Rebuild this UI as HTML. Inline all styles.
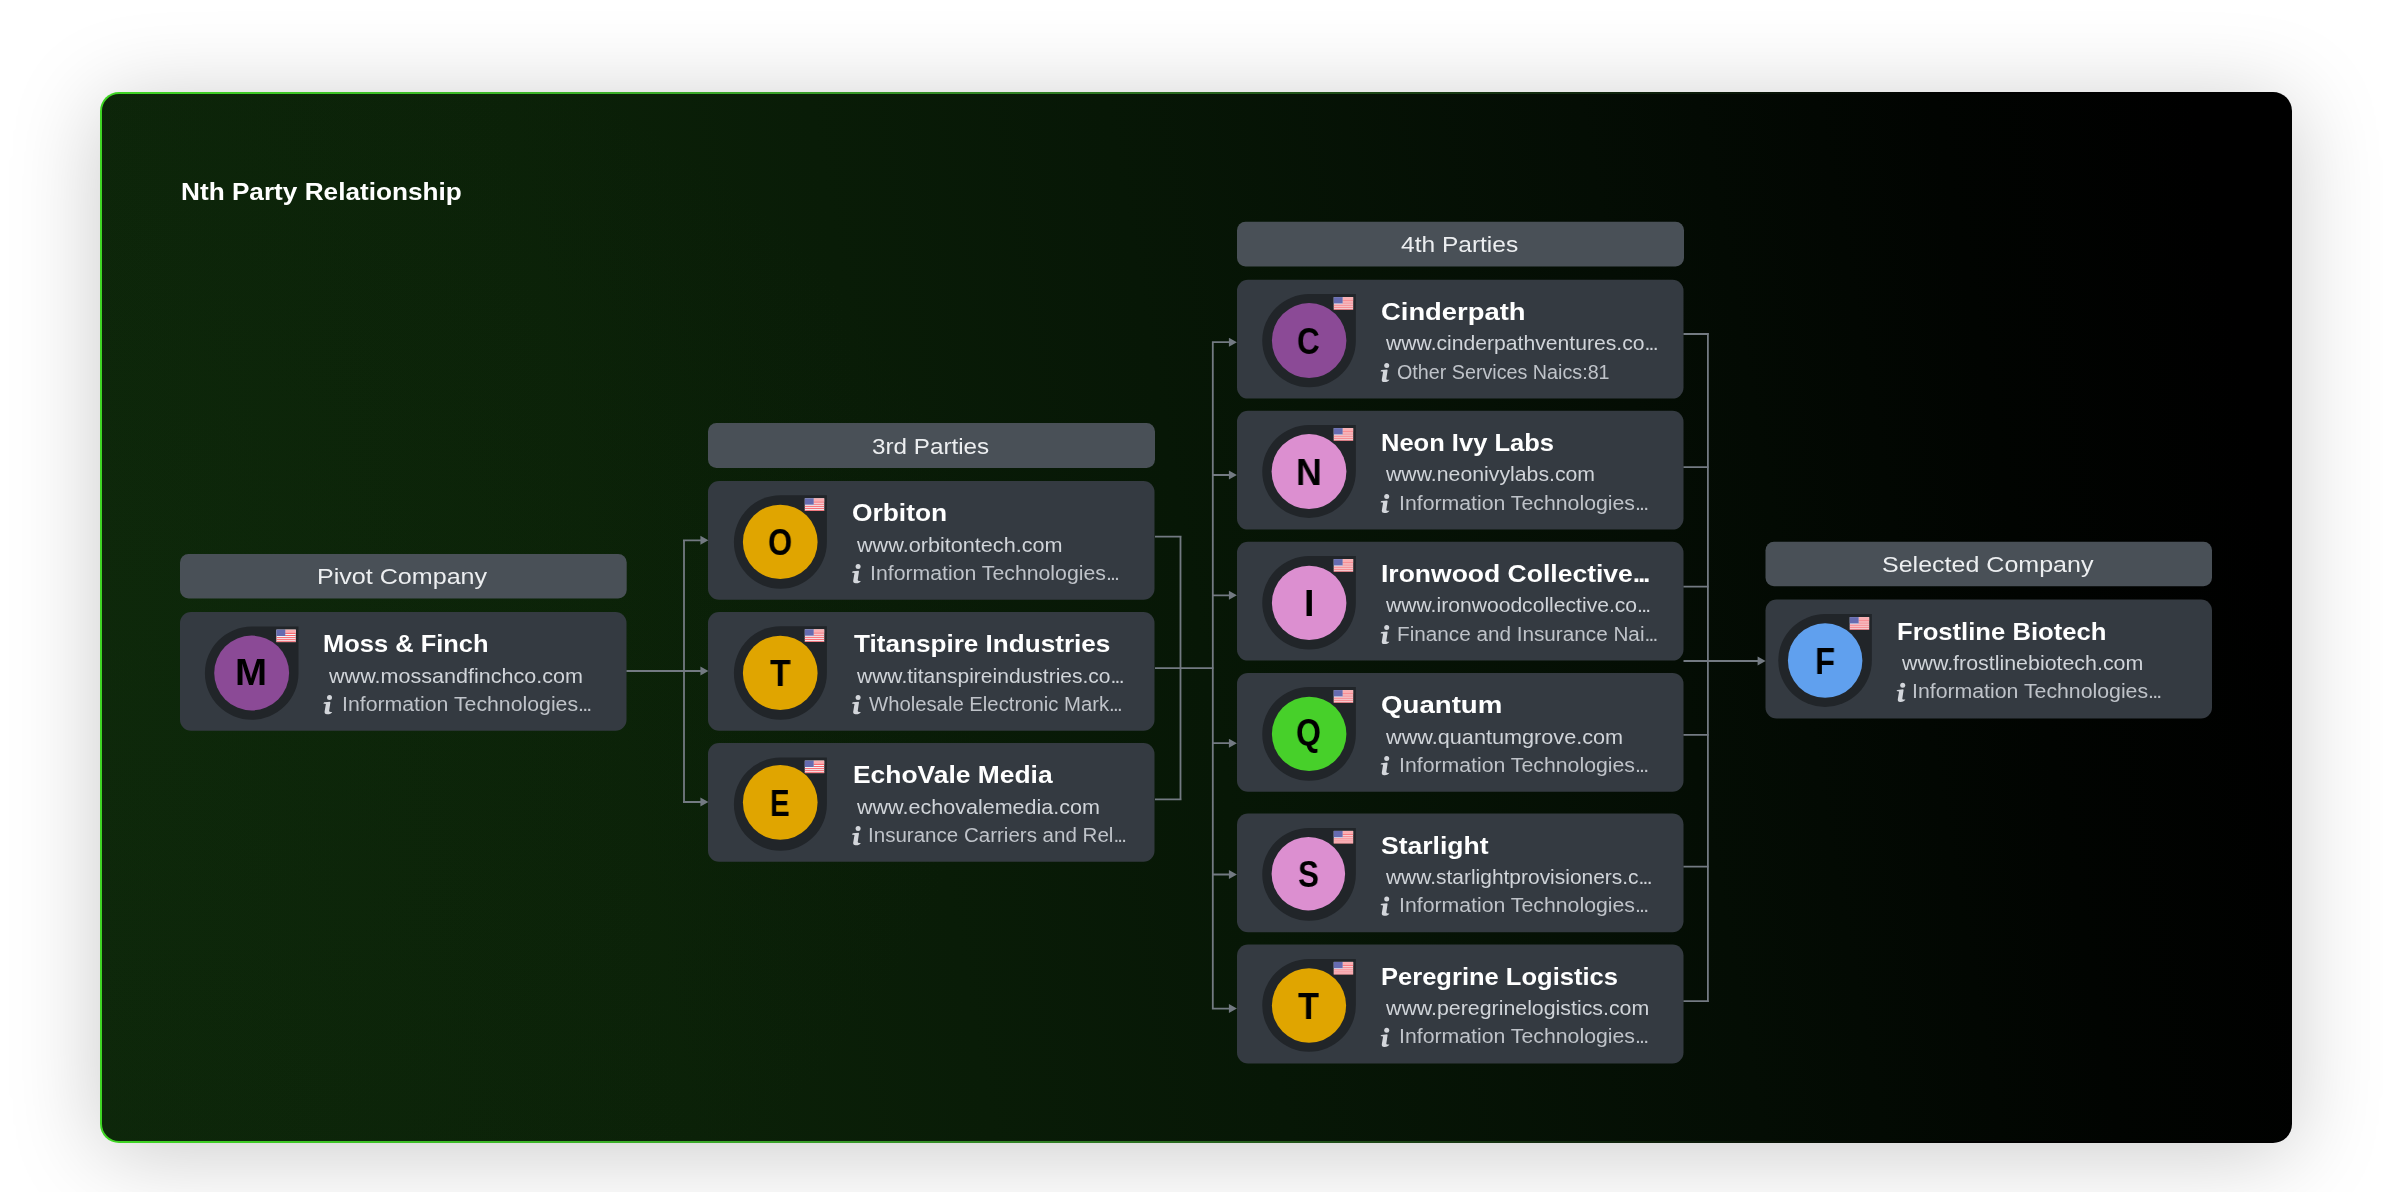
<!DOCTYPE html>
<html><head><meta charset="utf-8"><title>Nth Party Relationship</title>
<style>
html,body{margin:0;padding:0}
body{width:2392px;height:1192px;background:#fff;position:relative;overflow:hidden;font-family:"Liberation Sans",sans-serif}
.panel{position:absolute;left:100px;top:92px;width:2192px;height:1051px;box-sizing:border-box;border-radius:19px;border:2px solid transparent;
 background:radial-gradient(ellipse 900px 700px at 0% 55%,rgba(22,64,16,0.12),rgba(22,64,16,0) 100%) padding-box,linear-gradient(80deg,#0d260a 0%,#0b2108 25%,#071706 50%,#040d04 70%,#010401 85%,#000 96%) padding-box,linear-gradient(90deg,#3fd524 0%,#3aa42a 30%,#2f7a24 45%,#142e10 65%,#000 85%) border-box;
 box-shadow:0 10px 90px rgba(0,0,0,0.21)}
svg.g{position:absolute;left:0;top:0}
.t{position:absolute;white-space:pre;line-height:1;transform-origin:0 0;will-change:transform;font-family:"Liberation Sans",sans-serif}
.title{color:#fff;font-weight:700}
.ht{color:#eceef0}
.nm{color:#fff;font-weight:700}
.e{letter-spacing:-0.085em}
.url{color:#d0d4d9}
.ind{color:#bfc3c9}
.lt{will-change:transform;position:absolute;white-space:pre;font-weight:700;font-size:37.5px;line-height:1;color:#000;transform-origin:0 0}
</style></head><body>
<div class="panel"></div>
<svg class="g" width="2392" height="1192" viewBox="0 0 2392 1192"><rect x="180" y="554" width="446.7" height="44.5" rx="8.5" fill="#495057"/>
<rect x="708" y="423" width="447" height="45" rx="8.5" fill="#495057"/>
<rect x="1237" y="221.8" width="447" height="44.7" rx="8.5" fill="#495057"/>
<rect x="1765.5" y="541.8" width="446.5" height="44.5" rx="8.5" fill="#495057"/>
<defs><g id="fl"><rect x="0.3" y="0.3" width="19.4" height="12.5" fill="#f4f4f8"/><rect x="9" y="0.3" width="10.7" height="3.4" fill="#fbaeb2"/><rect x="9" y="3.6" width="10.7" height="1.05" fill="#f8646c"/><rect x="9" y="5.7" width="10.7" height="1.05" fill="#f8646c"/><rect x="0.3" y="7.8" width="19.4" height="1.05" fill="#f8646c"/><rect x="0.3" y="9.85" width="19.4" height="1.05" fill="#f8646c"/><rect x="0.3" y="11.9" width="19.4" height="0.9" fill="#f8646c"/><rect x="0.3" y="0.3" width="8.9" height="6.4" fill="#666bb0"/></g>
<g id="ii" fill="#d3d6db"><circle cx="6.5" cy="2.5" r="2.5"/><path d="M0.2,8.3 L1.2,7.2 L7.0,6.6 L7.4,7.4 L6.1,16.0 Q6.3,17.2 9.2,16.8 Q8.0,19.3 4.0,19.2 Q1.2,19.0 1.6,16.5 L2.9,8.8 Z"/></g></defs>
<rect x="180" y="612" width="446.5" height="118.8" rx="11" fill="#343a41"/>
<path d="M251.70,626.60 L298.50,626.60 L298.50,673.15 A46.80,46.55 0 0 1 251.70,719.70 A46.80,46.55 0 0 1 204.90,673.15 A46.80,46.55 0 0 1 251.70,626.60 Z" fill="#212529"/>
<ellipse cx="251.65" cy="673.00" rx="37.45" ry="37.40" fill="#8b4a96"/>
<use href="#fl" x="276.10" y="629.30"/>
<use href="#ii" x="323.0" y="695.1"/>
<rect x="708" y="481" width="446.5" height="118.8" rx="11" fill="#343a41"/>
<path d="M780.40,495.30 L826.90,495.30 L826.90,542.00 A46.50,46.70 0 0 1 780.40,588.70 A46.50,46.70 0 0 1 733.90,542.00 A46.50,46.70 0 0 1 780.40,495.30 Z" fill="#212529"/>
<ellipse cx="780.25" cy="541.88" rx="37.35" ry="37.23" fill="#e0a500"/>
<use href="#fl" x="804.50" y="498.00"/>
<use href="#ii" x="851.6" y="564.1"/>
<rect x="708" y="612" width="446.5" height="118.8" rx="11" fill="#343a41"/>
<path d="M780.40,626.30 L826.90,626.30 L826.90,673.00 A46.50,46.70 0 0 1 780.40,719.70 A46.50,46.70 0 0 1 733.90,673.00 A46.50,46.70 0 0 1 780.40,626.30 Z" fill="#212529"/>
<ellipse cx="780.25" cy="672.88" rx="37.35" ry="37.23" fill="#e0a500"/>
<use href="#fl" x="804.50" y="629.00"/>
<use href="#ii" x="851.6" y="695.1"/>
<rect x="708" y="743" width="446.5" height="118.8" rx="11" fill="#343a41"/>
<path d="M780.40,757.60 L826.90,757.60 L826.90,804.15 A46.50,46.55 0 0 1 780.40,850.70 A46.50,46.55 0 0 1 733.90,804.15 A46.50,46.55 0 0 1 780.40,757.60 Z" fill="#212529"/>
<ellipse cx="780.25" cy="802.35" rx="37.35" ry="37.45" fill="#e0a500"/>
<use href="#fl" x="804.50" y="760.30"/>
<use href="#ii" x="851.6" y="826.1"/>
<rect x="1237" y="279.8" width="446.5" height="118.8" rx="11" fill="#343a41"/>
<path d="M1309.05,294.10 L1355.85,294.10 L1355.85,340.65 A46.80,46.55 0 0 1 1309.05,387.20 A46.80,46.55 0 0 1 1262.25,340.65 A46.80,46.55 0 0 1 1309.05,294.10 Z" fill="#212529"/>
<ellipse cx="1309.15" cy="340.60" rx="37.25" ry="37.50" fill="#8b4a96"/>
<use href="#fl" x="1333.45" y="296.80"/>
<use href="#ii" x="1380.2" y="362.9"/>
<rect x="1237" y="410.8" width="446.5" height="118.8" rx="11" fill="#343a41"/>
<path d="M1309.05,425.10 L1355.85,425.10 L1355.85,471.50 A46.80,46.40 0 0 1 1309.05,517.90 A46.80,46.40 0 0 1 1262.25,471.50 A46.80,46.40 0 0 1 1309.05,425.10 Z" fill="#212529"/>
<ellipse cx="1309.00" cy="471.60" rx="37.40" ry="37.50" fill="#dc8fd0"/>
<use href="#fl" x="1333.45" y="427.80"/>
<use href="#ii" x="1380.2" y="493.9"/>
<rect x="1237" y="541.8" width="446.5" height="118.8" rx="11" fill="#343a41"/>
<path d="M1309.05,556.10 L1355.85,556.10 L1355.85,602.80 A46.80,46.70 0 0 1 1309.05,649.50 A46.80,46.70 0 0 1 1262.25,602.80 A46.80,46.70 0 0 1 1309.05,556.10 Z" fill="#212529"/>
<ellipse cx="1309.15" cy="602.88" rx="37.25" ry="37.23" fill="#dc8fd0"/>
<use href="#fl" x="1333.45" y="558.80"/>
<use href="#ii" x="1380.2" y="624.9"/>
<rect x="1237" y="672.9" width="446.5" height="118.8" rx="11" fill="#343a41"/>
<path d="M1309.05,687.10 L1355.85,687.10 L1355.85,733.90 A46.80,46.80 0 0 1 1309.05,780.70 A46.80,46.80 0 0 1 1262.25,733.90 A46.80,46.80 0 0 1 1309.05,687.10 Z" fill="#212529"/>
<ellipse cx="1309.15" cy="733.88" rx="37.25" ry="37.23" fill="#47d02a"/>
<use href="#fl" x="1333.45" y="689.80"/>
<use href="#ii" x="1380.2" y="756.0"/>
<rect x="1237" y="813.5" width="446.5" height="118.8" rx="11" fill="#343a41"/>
<path d="M1309.05,827.90 L1355.85,827.90 L1355.85,874.30 A46.80,46.40 0 0 1 1309.05,920.70 A46.80,46.40 0 0 1 1262.25,874.30 A46.80,46.40 0 0 1 1309.05,827.90 Z" fill="#212529"/>
<ellipse cx="1308.35" cy="873.67" rx="36.75" ry="36.72" fill="#dc8fd0"/>
<use href="#fl" x="1333.45" y="830.60"/>
<use href="#ii" x="1380.2" y="896.6"/>
<rect x="1237" y="944.6" width="446.5" height="118.8" rx="11" fill="#343a41"/>
<path d="M1309.05,958.90 L1355.85,958.90 L1355.85,1005.30 A46.80,46.40 0 0 1 1309.05,1051.70 A46.80,46.40 0 0 1 1262.25,1005.30 A46.80,46.40 0 0 1 1309.05,958.90 Z" fill="#212529"/>
<ellipse cx="1309.00" cy="1005.47" rx="37.10" ry="37.32" fill="#e0a500"/>
<use href="#fl" x="1333.45" y="961.60"/>
<use href="#ii" x="1380.2" y="1027.7"/>
<rect x="1765.5" y="599.6" width="446.5" height="118.8" rx="11" fill="#343a41"/>
<path d="M1825.05,614.10 L1871.85,614.10 L1871.85,660.50 A46.80,46.40 0 0 1 1825.05,706.90 A46.80,46.40 0 0 1 1778.25,660.50 A46.80,46.40 0 0 1 1825.05,614.10 Z" fill="#212529"/>
<ellipse cx="1825.15" cy="660.58" rx="37.25" ry="37.22" fill="#60a0ee"/>
<use href="#fl" x="1849.45" y="616.80"/>
<use href="#ii" x="1896.2" y="682.7"/>
<path d="M626.5,671 L701,671 M684,539.4 L684,803.1 M683,540.3 L701,540.3 M683,802 L701,802 M1155,536.6 L1181.5,536.6 M1155,668.2 L1213.8,668.2 M1155,799.3 L1181.5,799.3 M1180.5,535.7 L1180.5,800.2 M1212.8,341.3 L1212.8,1009.5 M1212,342.2 L1230,342.2 M1212,475 L1230,475 M1212,595.3 L1230,595.3 M1212,743.2 L1230,743.2 M1212,874.5 L1230,874.5 M1212,1008.6 L1230,1008.6 M1683.5,334 L1708.9,334 M1683.5,467.2 L1708.9,467.2 M1683.5,586.6 L1708.9,586.6 M1683.5,734.8 L1708.9,734.8 M1683.5,866.6 L1708.9,866.6 M1683.5,1001.1 L1708.9,1001.1 M1707.9,333.1 L1707.9,1002 M1683.5,661 L1759,661" fill="none" stroke="#737a82" stroke-width="1.8"/>
<path d="M708.4,540.3 l-8,-4.5 l0,9 z M708.4,671 l-8,-4.5 l0,9 z M708.4,802 l-8,-4.5 l0,9 z M1236.9,342.2 l-8,-4.5 l0,9 z M1236.9,475 l-8,-4.5 l0,9 z M1236.9,595.3 l-8,-4.5 l0,9 z M1236.9,743.2 l-8,-4.5 l0,9 z M1236.9,874.5 l-8,-4.5 l0,9 z M1236.9,1008.6 l-8,-4.5 l0,9 z M1765.6,661 l-8,-4.5 l0,9 z" fill="#737a82"/></svg>
<div class="t title" style="left:180.96px;top:180px;font-size:24.5px;transform:scaleX(1.0688)">Nth Party Relationship</div>
<div class="t ht" style="left:317.18px;top:566px;font-size:21.6px;transform:scaleX(1.1618)">Pivot Company</div>
<div class="t ht" style="left:871.58px;top:436px;font-size:21.6px;transform:scaleX(1.1223)">3rd Parties</div>
<div class="t ht" style="left:1401.36px;top:234px;font-size:21.6px;transform:scaleX(1.1353)">4th Parties</div>
<div class="t ht" style="left:1882.14px;top:554px;font-size:21.6px;transform:scaleX(1.1591)">Selected Company</div>
<div class="lt" style="left:235.30px;top:654px;transform:scaleX(1.025)">M</div>
<div class="t nm" style="left:323.40px;top:632px;font-size:24.3px;transform:scaleX(1.0481)">Moss &amp; Finch</div>
<div class="t url" style="left:328.50px;top:666px;font-size:20.4px;transform:scaleX(1.0573)">www.mossandfinchco.com</div>
<div class="t ind" style="left:341.53px;top:695px;font-size:19.6px;transform:scaleX(1.0855)">Information Technologies<span class=e>...</span></div>
<div class="lt" style="left:767.67px;top:524px;transform:scaleX(0.829)">O</div>
<div class="t nm" style="left:852.32px;top:501px;font-size:24.3px;transform:scaleX(1.0847)">Orbiton</div>
<div class="t url" style="left:857.20px;top:535px;font-size:20.4px;transform:scaleX(1.0609)">www.orbitontech.com</div>
<div class="t ind" style="left:870.23px;top:564px;font-size:19.6px;transform:scaleX(1.0846)">Information Technologies<span class=e>...</span></div>
<div class="lt" style="left:770.01px;top:655px;transform:scaleX(0.895)">T</div>
<div class="t nm" style="left:854.10px;top:632px;font-size:24.3px;transform:scaleX(1.0748)">Titanspire Industries</div>
<div class="t url" style="left:857.20px;top:666px;font-size:20.4px;transform:scaleX(1.0310)">www.titanspireindustries.co<span class=e>...</span></div>
<div class="t ind" style="left:869.20px;top:695px;font-size:19.6px;transform:scaleX(1.0350)">Wholesale Electronic Mark<span class=e>...</span></div>
<div class="lt" style="left:770.10px;top:785px;transform:scaleX(0.787)">E</div>
<div class="t nm" style="left:852.73px;top:763px;font-size:24.3px;transform:scaleX(1.0868)">EchoVale Media</div>
<div class="t url" style="left:857.20px;top:797px;font-size:20.4px;transform:scaleX(1.0563)">www.echovalemedia.com</div>
<div class="t ind" style="left:867.60px;top:826px;font-size:19.6px;transform:scaleX(1.0481)">Insurance Carriers and Rel<span class=e>...</span></div>
<div class="lt" style="left:1297.46px;top:323px;transform:scaleX(0.838)">C</div>
<div class="t nm" style="left:1380.97px;top:300px;font-size:24.3px;transform:scaleX(1.1270)">Cinderpath</div>
<div class="t url" style="left:1386.20px;top:333px;font-size:20.4px;transform:scaleX(1.0368)">www.cinderpathventures.co<span class=e>...</span></div>
<div class="t ind" style="left:1397.19px;top:363px;font-size:19.6px;transform:scaleX(1.0062)">Other Services Naics:81</div>
<div class="lt" style="left:1295.58px;top:454px;transform:scaleX(0.952)">N</div>
<div class="t nm" style="left:1380.80px;top:431px;font-size:24.3px;transform:scaleX(1.0500)">Neon Ivy Labs</div>
<div class="t url" style="left:1386.20px;top:464px;font-size:20.4px;transform:scaleX(1.0422)">www.neonivylabs.com</div>
<div class="t ind" style="left:1398.83px;top:494px;font-size:19.6px;transform:scaleX(1.0850)">Information Technologies<span class=e>...</span></div>
<div class="lt" style="left:1303.55px;top:585px;transform:scaleX(0.967)">I</div>
<div class="t nm" style="left:1380.72px;top:562px;font-size:24.3px;transform:scaleX(1.0909)">Ironwood Collective<span class=e>...</span></div>
<div class="t url" style="left:1386.20px;top:595px;font-size:20.4px;transform:scaleX(1.0354)">www.ironwoodcollective.co<span class=e>...</span></div>
<div class="t ind" style="left:1397.09px;top:625px;font-size:19.6px;transform:scaleX(1.0568)">Finance and Insurance Nai<span class=e>...</span></div>
<div class="lt" style="left:1295.95px;top:714px;transform:scaleX(0.855)">Q</div>
<div class="t nm" style="left:1380.96px;top:693px;font-size:24.3px;transform:scaleX(1.1375)">Quantum</div>
<div class="t url" style="left:1386.20px;top:727px;font-size:20.4px;transform:scaleX(1.0622)">www.quantumgrove.com</div>
<div class="t ind" style="left:1398.83px;top:756px;font-size:19.6px;transform:scaleX(1.0850)">Information Technologies<span class=e>...</span></div>
<div class="lt" style="left:1297.50px;top:856px;transform:scaleX(0.837)">S</div>
<div class="t nm" style="left:1381.01px;top:834px;font-size:24.3px;transform:scaleX(1.0918)">Starlight</div>
<div class="t url" style="left:1386.20px;top:867px;font-size:20.4px;transform:scaleX(1.0271)">www.starlightprovisioners.c<span class=e>...</span></div>
<div class="t ind" style="left:1398.83px;top:896px;font-size:19.6px;transform:scaleX(1.0850)">Information Technologies<span class=e>...</span></div>
<div class="lt" style="left:1298.01px;top:988px;transform:scaleX(0.921)">T</div>
<div class="t nm" style="left:1380.80px;top:965px;font-size:24.3px;transform:scaleX(1.0507)">Peregrine Logistics</div>
<div class="t url" style="left:1386.20px;top:998px;font-size:20.4px;transform:scaleX(1.0464)">www.peregrinelogistics.com</div>
<div class="t ind" style="left:1398.83px;top:1027px;font-size:19.6px;transform:scaleX(1.0850)">Information Technologies<span class=e>...</span></div>
<div class="lt" style="left:1814.57px;top:643px;transform:scaleX(0.878)">F</div>
<div class="t nm" style="left:1896.79px;top:620px;font-size:24.3px;transform:scaleX(1.0554)">Frostline Biotech</div>
<div class="t url" style="left:1902.20px;top:653px;font-size:20.4px;transform:scaleX(1.0489)">www.frostlinebiotech.com</div>
<div class="t ind" style="left:1912.13px;top:682px;font-size:19.6px;transform:scaleX(1.0855)">Information Technologies<span class=e>...</span></div>
</body></html>
